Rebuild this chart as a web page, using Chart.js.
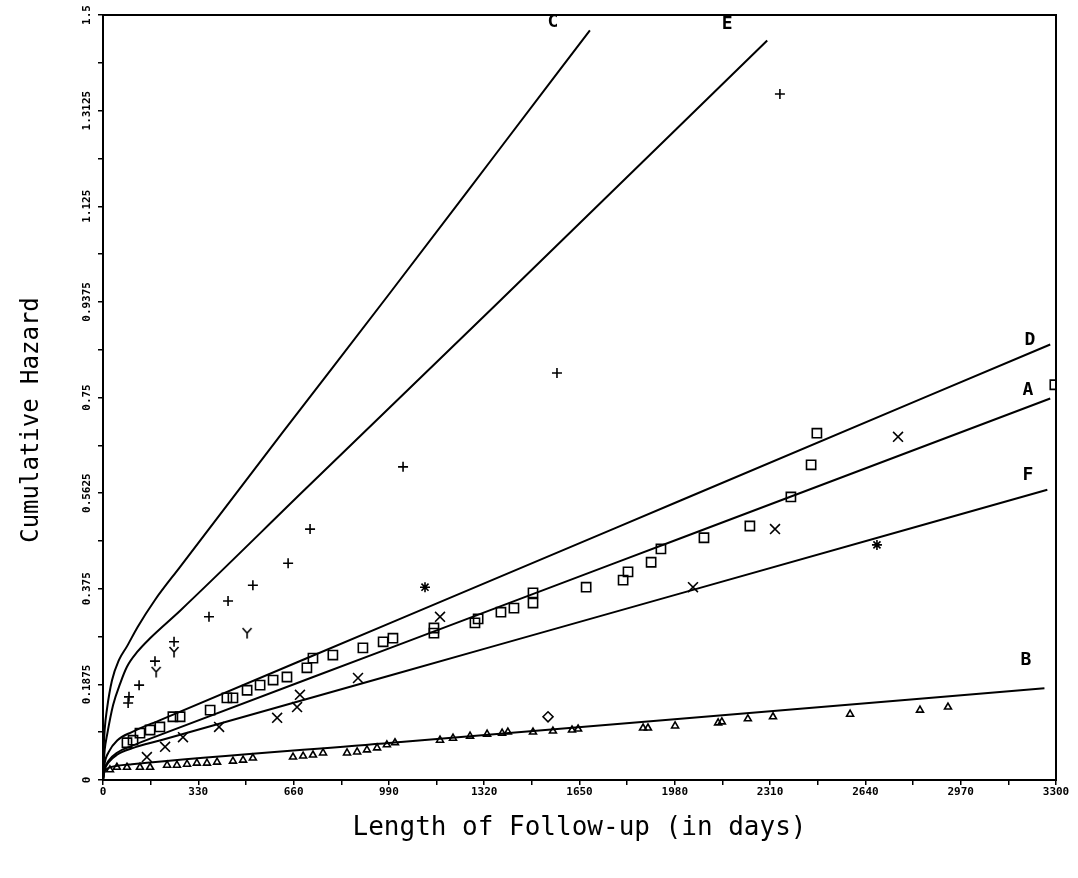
<!DOCTYPE html>
<html>
<head>
<meta charset="utf-8">
<title>Cumulative Hazard</title>
<script src="https://cdn.jsdelivr.net/npm/chart.js@4.4.1/dist/chart.umd.min.js"></script>
<style>
    body { margin: 0; background: #fff; }
    canvas { display: block; }
</style>
</head>
<body>
<canvas id="hazardChart" width="1078" height="878"></canvas>
<script>
// Tick values (labels only on every second tick)
const yTickValues = [0, 0.1875, 0.375, 0.5625, 0.75, 0.9375, 1.125, 1.3125, 1.5];

// Fitted curves, days vs cumulative hazard
const curveC_days = [0, 2, 6, 14, 31, 55, 83, 120, 180, 267, 620, 987, 1357, 1686];
const curveC_haz  = [0, 0.055, 0.1, 0.14, 0.195, 0.235, 0.262, 0.3, 0.353, 0.418, 0.68, 0.95, 1.225, 1.47];
const curveE_days = [0, 2, 6, 14, 35, 60, 83, 120, 163, 267, 700, 1357, 2300];
const curveE_haz  = [0, 0.03, 0.06, 0.088, 0.147, 0.19, 0.222, 0.252, 0.278, 0.332, 0.57, 0.93, 1.45];
const curveD_days = [0, 5, 20, 50, 100, 200, 1000, 2000, 3280];
const curveD_haz  = [0, 0.03, 0.055, 0.078, 0.094, 0.118, 0.309, 0.548, 0.854];
const curveA_days = [0, 5, 20, 50, 100, 200, 1000, 2000, 3280];
const curveA_haz  = [0, 0.02, 0.038, 0.054, 0.067, 0.089, 0.26, 0.474, 0.748];
const curveF_days = [0, 5, 20, 50, 100, 200, 1000, 2000, 3270];
const curveF_haz  = [0, 0.018, 0.035, 0.05, 0.062, 0.078, 0.206, 0.366, 0.569];
const curveB_days = [0, 3, 10, 25, 50, 100, 1000, 2000, 3260];
const curveB_haz  = [0, 0.012, 0.02, 0.025, 0.028, 0.031, 0.073, 0.120, 0.180];

// Observed points
const plusDays = [87, 90, 125, 180, 246, 367, 433, 519, 641, 717, 1039, 1572, 2344];
const plusHaz  = [0.151, 0.163, 0.186, 0.233, 0.271, 0.320, 0.351, 0.382, 0.425, 0.492, 0.614, 0.798, 1.345];
const yDays = [184, 246, 499];
const yHaz  = [0.212, 0.251, 0.288];
const squareDays = [83, 104, 128, 163, 197, 242, 267, 371, 429, 450, 499, 544, 589, 637, 706, 727, 796, 900, 970, 1004,
    1146, 1146, 1288, 1299, 1378, 1423, 1489, 1489, 1673, 1801, 1818, 1898, 1932, 2081, 2240, 2382, 2452, 2472, 3296];
const squareHaz  = [0.073, 0.078, 0.092, 0.098, 0.104, 0.124, 0.124, 0.137, 0.161, 0.161, 0.176, 0.186, 0.196, 0.202, 0.220, 0.239, 0.245, 0.259, 0.271, 0.278,
    0.288, 0.298, 0.308, 0.316, 0.329, 0.337, 0.347, 0.367, 0.378, 0.392, 0.408, 0.427, 0.453, 0.475, 0.498, 0.555, 0.618, 0.680, 0.775];
const crossDays = [152, 215, 277, 402, 603, 672, 682, 883, 1167, 2043, 2327, 2753];
const crossHaz  = [0.045, 0.065, 0.084, 0.104, 0.122, 0.143, 0.167, 0.200, 0.320, 0.378, 0.492, 0.673];
const starDays = [1115, 2680];
const starHaz  = [0.378, 0.461];
const triDays = [24, 48, 83, 128, 163, 222, 256, 291, 325, 360, 395, 450, 485, 519, 658, 693, 727, 762, 845, 880, 914, 949, 983, 1011,
    1167, 1212, 1271, 1330, 1382, 1402, 1489, 1558, 1624, 1645, 1870, 1887, 1981, 2130, 2143, 2233, 2320, 2587, 2829, 2926];
const triHaz  = [0.020, 0.025, 0.025, 0.025, 0.025, 0.029, 0.029, 0.031, 0.033, 0.033, 0.035, 0.037, 0.039, 0.043, 0.045, 0.047, 0.049, 0.053, 0.053, 0.055, 0.059, 0.063, 0.069, 0.073,
    0.078, 0.082, 0.086, 0.090, 0.092, 0.094, 0.094, 0.096, 0.098, 0.100, 0.102, 0.102, 0.106, 0.112, 0.114, 0.120, 0.124, 0.129, 0.137, 0.143];
const diamondDays = [1541];
const diamondHaz  = [0.124];

const pairs = (xs, ys) => xs.map((x, i) => ({ x: x, y: ys[i] }));

// "Y" marker drawn on a small canvas
const yMark = document.createElement('canvas');
yMark.width = 12;
yMark.height = 12;
(function() {
    const c = yMark.getContext('2d');
    c.strokeStyle = '#000';
    c.lineWidth = 1.6;
    c.beginPath();
    c.moveTo(1.5, 1); c.lineTo(6, 6);
    c.moveTo(10.5, 1); c.lineTo(6, 6);
    c.moveTo(6, 6); c.lineTo(6, 11.5);
    c.stroke();
})();

function curve(days, haz) {
    return {
        data: pairs(days, haz),
        showLine: true,
        borderColor: '#000',
        borderWidth: 2,
        pointRadius: 0,
        fill: false,
        cubicInterpolationMode: 'monotone'
    };
}

function marks(days, haz, style, radius) {
    return {
        data: pairs(days, haz),
        showLine: false,
        pointStyle: style,
        pointRadius: radius,
        borderColor: '#000',
        backgroundColor: 'rgba(0,0,0,0)',
        borderWidth: 1.6
    };
}

// Frame, rotated y labels, axis titles and curve letters
const hazardText = {
    id: 'hazardText',
    afterDraw(chart) {
        const { ctx, chartArea: a, scales: { x, y } } = chart;
        ctx.save();
        ctx.strokeStyle = '#000';
        ctx.lineWidth = 2;
        ctx.strokeRect(a.left, a.top, a.right - a.left, a.bottom - a.top);

        ctx.fillStyle = '#000';
        ctx.textAlign = 'center';
        ctx.textBaseline = 'middle';
        ctx.font = 'bold 11px "DejaVu Sans Mono"';
        yTickValues.forEach(v => {
            ctx.save();
            ctx.translate(a.left - 16, y.getPixelForValue(v));
            ctx.rotate(-Math.PI / 2);
            ctx.fillText(String(v), 0, 0);
            ctx.restore();
        });

        ctx.font = '26px "DejaVu Sans Mono"';
        ctx.fillText('Length of Follow-up (in days)', (a.left + a.right) / 2, 828);
        ctx.save();
        ctx.translate(32, 420);
        ctx.rotate(-Math.PI / 2);
        ctx.font = '24px "DejaVu Sans Mono"';
        ctx.fillText('Cumulative Hazard', 0, 0);
        ctx.restore();

        ctx.font = 'bold 18px "DejaVu Sans Mono"';
        [['C', 1558, 1.486], ['E', 2161, 1.482], ['D', 3210, 0.863],
         ['A', 3203, 0.765], ['F', 3203, 0.598], ['B', 3196, 0.235]].forEach(l => {
            ctx.fillText(l[0], x.getPixelForValue(l[1]), y.getPixelForValue(l[2]));
        });
        ctx.restore();
    }
};

const ctx = document.getElementById('hazardChart').getContext('2d');
new Chart(ctx, {
    type: 'scatter',
    data: {
        datasets: [
            curve(curveC_days, curveC_haz),
            curve(curveE_days, curveE_haz),
            curve(curveD_days, curveD_haz),
            curve(curveA_days, curveA_haz),
            curve(curveF_days, curveF_haz),
            curve(curveB_days, curveB_haz),
            marks(plusDays, plusHaz, 'cross', 5),
            marks(yDays, yHaz, yMark, 6),
            marks(squareDays, squareHaz, 'rect', 6.5),
            marks(crossDays, crossHaz, 'crossRot', 7),
            marks(starDays, starHaz, 'star', 5),
            marks(triDays, triHaz, 'triangle', 4),
            marks(diamondDays, diamondHaz, 'rectRot', 5)
        ]
    },
    options: {
        responsive: false,
        animation: false,
        layout: { padding: { top: 15, right: 22, left: 0, bottom: 0 } },
        plugins: {
            legend: { display: false },
            tooltip: { enabled: false }
        },
        scales: {
            x: {
                type: 'linear',
                min: 0,
                max: 3300,
                afterFit: s => { s.height = 98; },
                ticks: {
                    stepSize: 165,
                    autoSkip: false,
                    maxRotation: 0,
                    padding: 1,
                    color: '#000',
                    font: { family: 'DejaVu Sans Mono', size: 11, weight: 'bold' },
                    callback: v => (v % 330 === 0 ? String(v) : '')
                },
                grid: { drawOnChartArea: false, drawTicks: true, tickLength: 5, color: '#000', lineWidth: 1.5 },
                border: { color: '#000', width: 2 }
            },
            y: {
                min: 0,
                max: 1.5,
                afterFit: s => { s.width = 103; },
                ticks: {
                    stepSize: 0.09375,
                    autoSkip: false,
                    callback: () => ''
                },
                grid: { drawOnChartArea: false, drawTicks: true, tickLength: 5, color: '#000', lineWidth: 1.5 },
                border: { color: '#000', width: 2 }
            }
        }
    },
    plugins: [hazardText]
});
</script>
</body>
</html>
